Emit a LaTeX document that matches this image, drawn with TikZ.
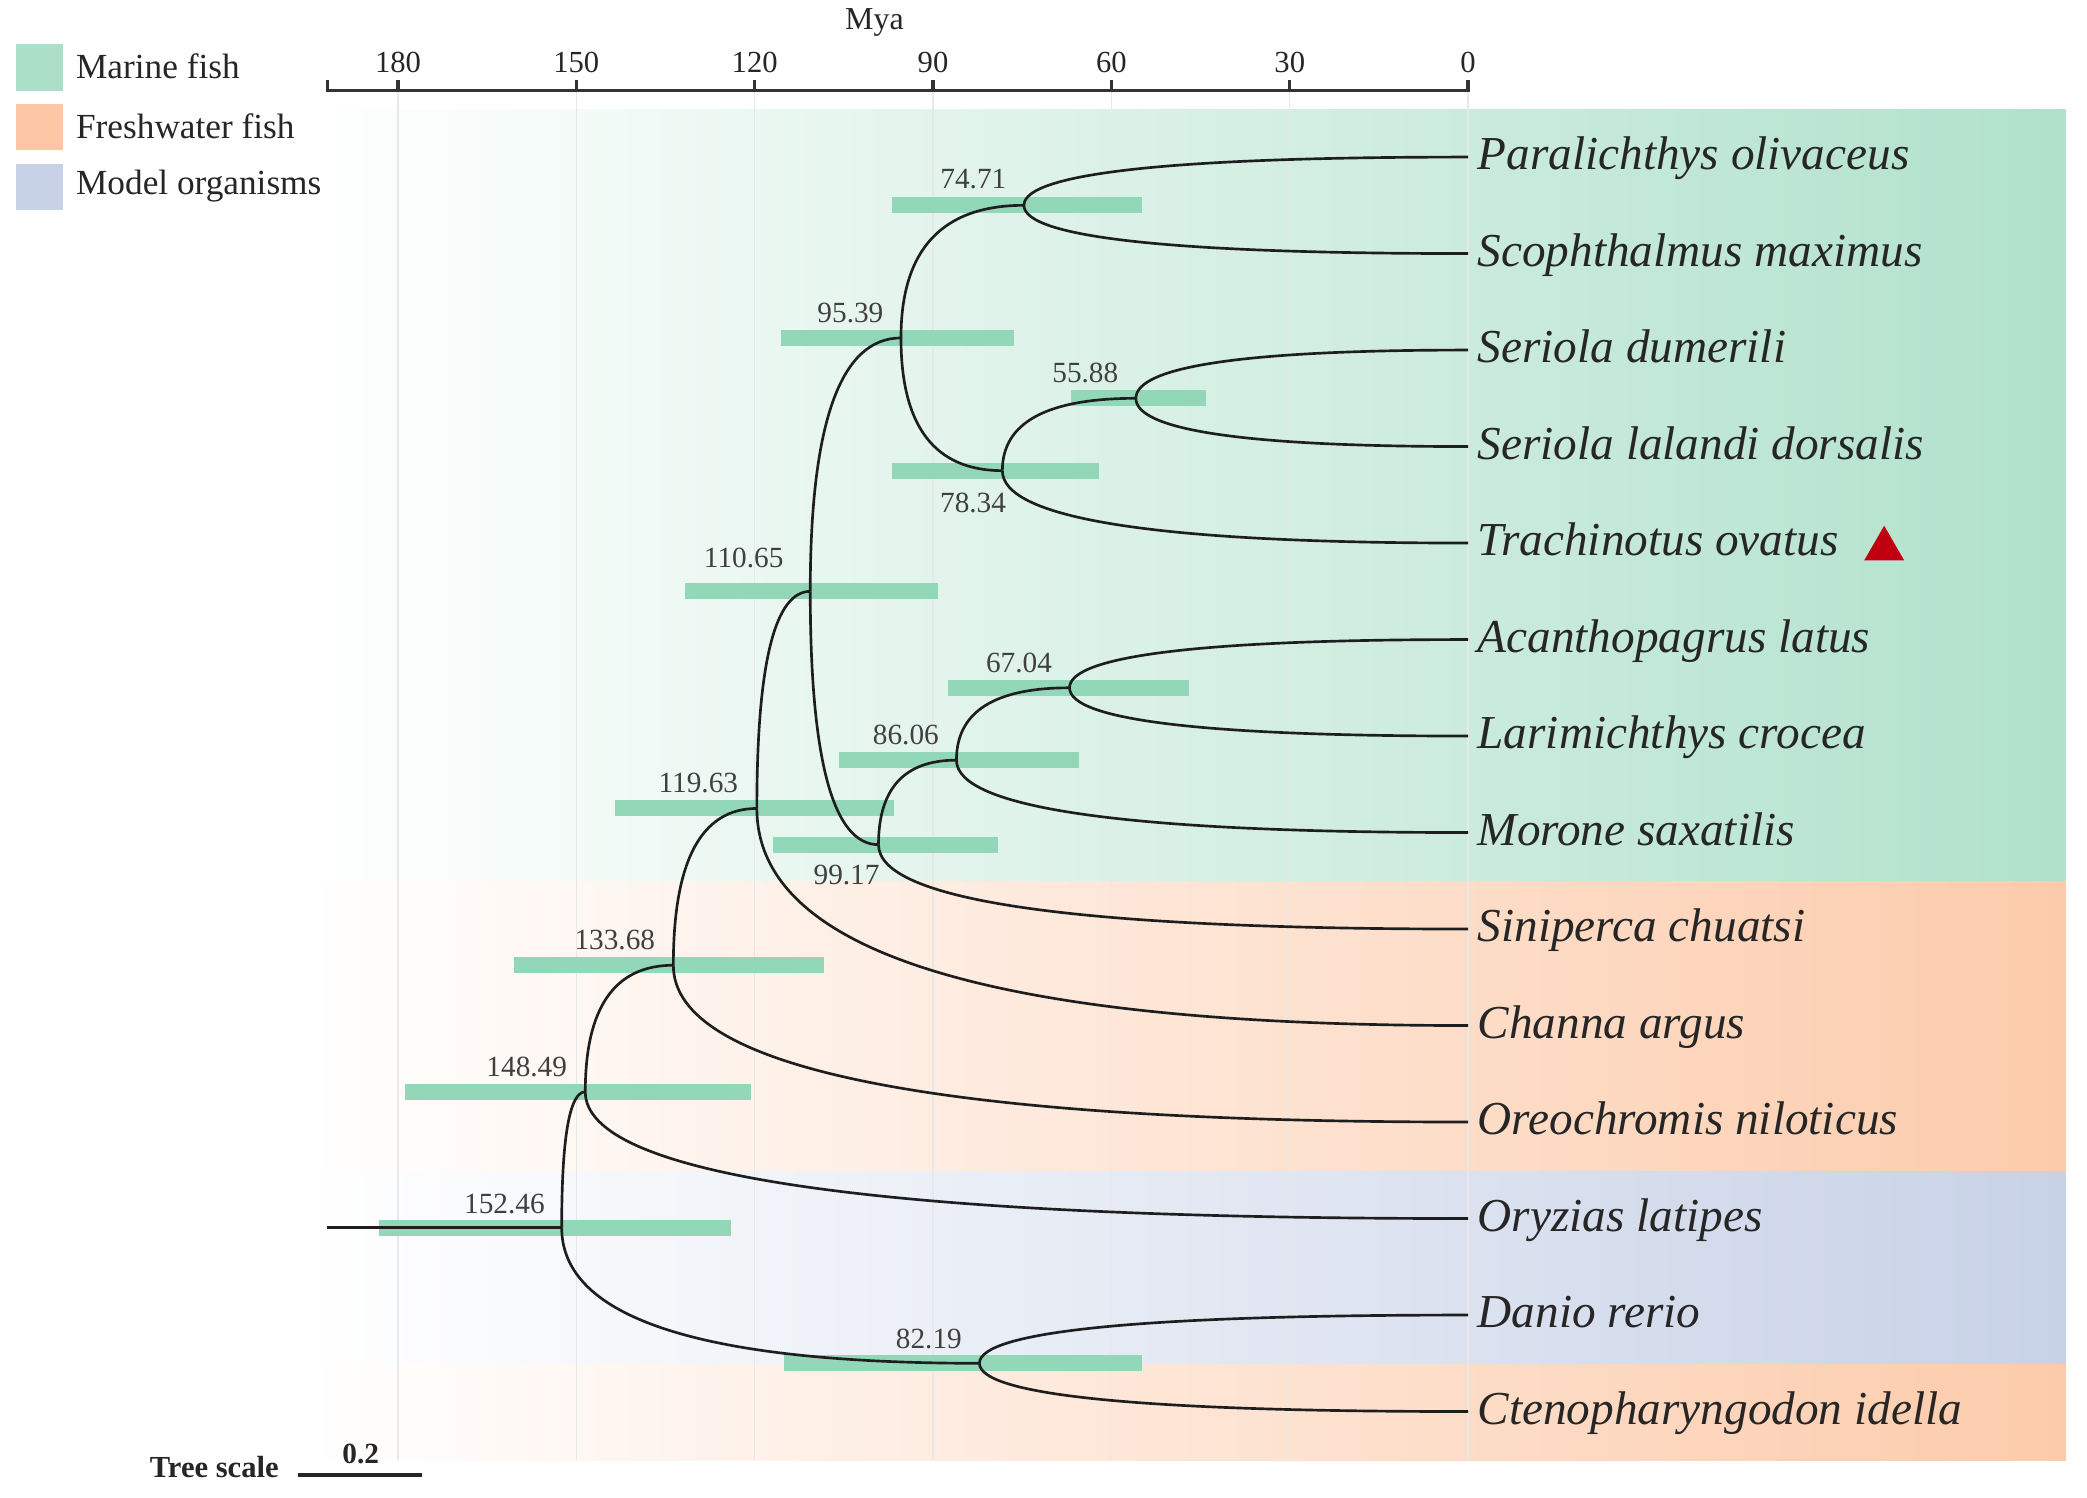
\documentclass[tikz,border=0pt]{standalone}
\usepackage{fontspec}
\setmainfont{Liberation Serif}
\usetikzlibrary{calc}
\definecolor{marine}{HTML}{B0E1CB}
\definecolor{fresh}{HTML}{FCCBAB}
\definecolor{model}{HTML}{C8D2E7}
\definecolor{legmarine}{HTML}{ABDFC7}
\definecolor{legfresh}{HTML}{FDC6A4}
\definecolor{legmodel}{HTML}{C8D2E6}
\definecolor{hpd}{HTML}{93D7B9}
\definecolor{tri}{HTML}{C00010}
\definecolor{branchc}{HTML}{1E1E1E}
\definecolor{txt}{HTML}{262626}
\tikzset{
  branch/.style={draw=branchc, line width=2pt},
  species/.style={anchor=west, inner xsep=7pt, inner ysep=0pt, text height=19pt, text depth=0pt,
    font=\fontsize{35.5}{40}\selectfont\itshape, text=txt},
  agelab/.style={font=\fontsize{22}{24}\selectfont, text=black!75, inner sep=0pt},
  ticklab/.style={font=\fontsize{23}{25}\selectfont, text=txt, inner sep=0pt},
  legtext/.style={font=\fontsize{26.5}{28}\selectfont, text=txt, anchor=west, inner sep=0pt},
  hpdbar/.style={draw=hpd, line width=12pt},
  grid/.style={draw=black!9, line width=1pt},
  axis/.style={draw=black!80, line width=2.5pt},
}
\newcommand\brnch[2]{\draw[branch] (#1) .. controls ($(#1)!0.6667!(#1|-#2)$) and ($(#2)!0.6667!(#1|-#2)$) .. (#2);}
\begin{document}
\begin{tikzpicture}[x=1pt,y=-1pt]
\useasboundingbox (0,0) rectangle (1568,1125);
% background bands
\shade[left color=white, right color=marine] (230,82) rectangle (1552,662);
\shade[left color=white, right color=fresh] (230,662) rectangle (1552,880);
\shade[left color=white, right color=model] (230,880) rectangle (1552,1025);
\shade[left color=white, right color=fresh] (230,1025) rectangle (1552,1097);
% grid lines
\foreach \a in {180,150,120,90,60,30,0} {
  \draw[grid] ({1103-4.4667*\a},68) -- ({1103-4.4667*\a},1097);
}
% axis
\draw[axis] (246,60) -- (246,68) -- (1103,68) -- (1103,60);
\foreach \a in {180,150,120,90,60,30,0} {
  \draw[axis] ({1103-4.4667*\a},68) -- ({1103-4.4667*\a},60);
  \node[ticklab] (t\a) at ({1103-4.4667*\a},47) {\a};
}
\node[font=\fontsize{24}{26}\selectfont, text=txt, inner sep=0pt] (mya) at (657,17) {Mya};
% legend
\fill[legmarine] (12,33) rectangle (47,68);
\fill[legfresh] (12,78) rectangle (47,113);
\fill[legmodel] (12,123) rectangle (47,158);
\node[legtext] (lg1) at (57,50) {Marine fish};
\node[legtext] (lg2) at (57,95) {Freshwater fish};
\node[legtext] (lg3) at (57,140) {Model organisms};
% leaves
\node[species] (L1) at (1103,118) {Paralichthys olivaceus};
\node[species] (L2) at (1103,190.5) {Scophthalmus maximus};
\node[species] (L3) at (1103,263) {Seriola dumerili};
\node[species] (L4) at (1103,335.5) {Seriola lalandi dorsalis};
\node[species] (L5) at (1103,408) {Trachinotus ovatus};
\node[species] (L6) at (1103,480.5) {Acanthopagrus latus};
\node[species] (L7) at (1103,553) {Larimichthys crocea};
\node[species] (L8) at (1103,625.5) {Morone saxatilis};
\node[species] (L9) at (1103,698) {Siniperca chuatsi};
\node[species] (L10) at (1103,770.5) {Channa argus};
\node[species] (L11) at (1103,843) {Oreochromis niloticus};
\node[species] (L12) at (1103,915.5) {Oryzias latipes};
\node[species] (L13) at (1103,988) {Danio rerio};
\node[species] (L14) at (1103,1060.5) {Ctenopharyngodon idella};
\fill[tri] ($(L5.east)+(12,13)$) -- ($(L5.east)+(42,13)$) -- ($(L5.east)+(27,-13)$) -- cycle;
% internal nodes
\coordinate (n7471) at ({1103-4.4667*74.71},154.25);
\coordinate (n5588) at ({1103-4.4667*55.88},299.25);
\coordinate (n7834) at ({1103-4.4667*78.34},353.6);
\coordinate (n9539) at ({1103-4.4667*95.39},253.9);
\coordinate (n6704) at ({1103-4.4667*67.04},516.75);
\coordinate (n8606) at ({1103-4.4667*86.06},571.1);
\coordinate (n9917) at ({1103-4.4667*99.17},634.6);
\coordinate (n11065) at ({1103-4.4667*110.65},444.3);
\coordinate (n11963) at ({1103-4.4667*119.63},607.4);
\coordinate (n13368) at ({1103-4.4667*133.68},725.2);
\coordinate (n14849) at ({1103-4.4667*148.49},820.3);
\coordinate (n8219) at ({1103-4.4667*82.19},1024.25);
\coordinate (n15246) at ({1103-4.4667*152.46},922.3);
\coordinate (root) at (246,922.3);
% HPD bars
\draw[hpdbar] (670,154.25) -- (858,154.25);
\draw[hpdbar] (587,253.9) -- (762,253.9);
\draw[hpdbar] (805,299.25) -- (906,299.25);
\draw[hpdbar] (670,353.6) -- (826,353.6);
\draw[hpdbar] (515,444.3) -- (705,444.3);
\draw[hpdbar] (712,516.75) -- (893,516.75);
\draw[hpdbar] (630,571.1) -- (811,571.1);
\draw[hpdbar] (462,607.4) -- (672,607.4);
\draw[hpdbar] (581,634.6) -- (750,634.6);
\draw[hpdbar] (386,725.2) -- (619,725.2);
\draw[hpdbar] (304,820.3) -- (564,820.3);
\draw[hpdbar] (285,922.3) -- (549,922.3);
\draw[hpdbar] (589,1024.25) -- (858,1024.25);
% branches
\draw[branch] (root) -- (n15246);
\brnch{n15246}{n14849}
\brnch{n15246}{n8219}
\brnch{n8219}{L13.west}
\brnch{n8219}{L14.west}
\brnch{n14849}{n13368}
\brnch{n14849}{L12.west}
\brnch{n13368}{n11963}
\brnch{n13368}{L11.west}
\brnch{n11963}{n11065}
\brnch{n11963}{L10.west}
\brnch{n11065}{n9539}
\brnch{n11065}{n9917}
\brnch{n9917}{n8606}
\brnch{n9917}{L9.west}
\brnch{n8606}{n6704}
\brnch{n8606}{L8.west}
\brnch{n6704}{L6.west}
\brnch{n6704}{L7.west}
\brnch{n9539}{n7471}
\brnch{n9539}{n7834}
\brnch{n7471}{L1.west}
\brnch{n7471}{L2.west}
\brnch{n7834}{n5588}
\brnch{n7834}{L5.west}
\brnch{n5588}{L3.west}
\brnch{n5588}{L4.west}
% age labels
\node[agelab] (a7471) at ($(n7471)+(-38,-20)$) {74.71};
\node[agelab] (a9539) at ($(n9539)+(-38,-19)$) {95.39};
\node[agelab] (a5588) at ($(n5588)+(-38,-19)$) {55.88};
\node[agelab] (a7834) at ($(n7834)+(-22,24)$) {78.34};
\node[agelab] (a11065) at ($(n11065)+(-50,-25)$) {110.65};
\node[agelab] (a6704) at ($(n6704)+(-38,-19)$) {67.04};
\node[agelab] (a8606) at ($(n8606)+(-38,-19)$) {86.06};
\node[agelab] (a11963) at ($(n11963)+(-44,-19)$) {119.63};
\node[agelab] (a9917) at ($(n9917)+(-24,23)$) {99.17};
\node[agelab] (a13368) at ($(n13368)+(-44,-19)$) {133.68};
\node[agelab] (a14849) at ($(n14849)+(-44,-19)$) {148.49};
\node[agelab] (a15246) at ($(n15246)+(-43,-18)$) {152.46};
\node[agelab] (a8219) at ($(n8219)+(-38,-18)$) {82.19};
% tree scale
\node[font=\fontsize{23}{25}\selectfont\bfseries, text=txt, inner sep=0pt] (ts) at (161,1102) {Tree scale};
\draw[line width=3pt, draw=black!85] (224,1108) coordinate (s1) -- (317,1108) coordinate (s2);
\node[font=\fontsize{22}{24}\selectfont\bfseries, text=txt, inner sep=0pt] (sv) at (271,1092) {0.2};
\end{tikzpicture}
\end{document}
